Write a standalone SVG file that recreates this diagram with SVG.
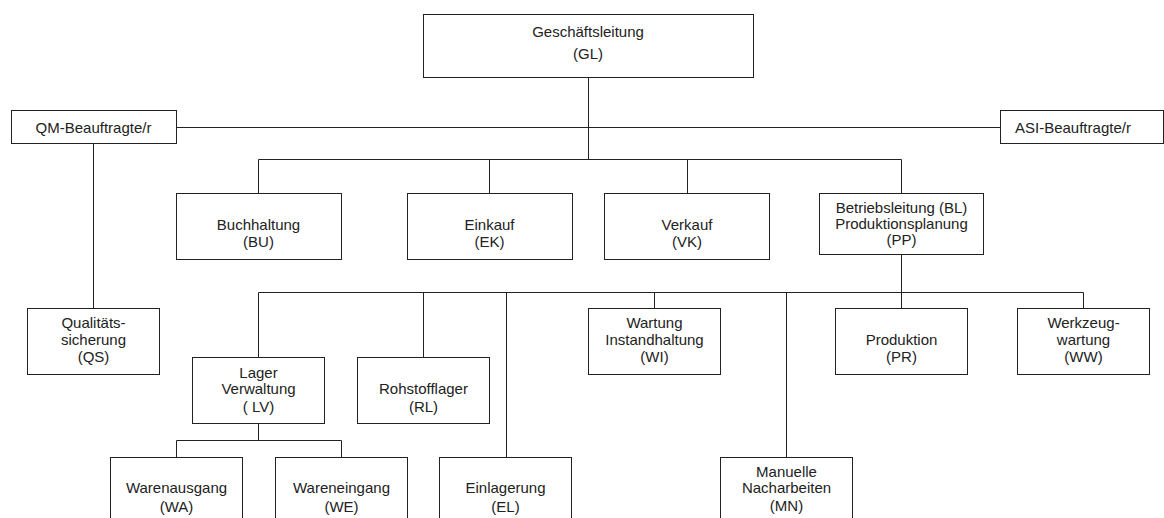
<svg xmlns="http://www.w3.org/2000/svg" width="1164" height="518" viewBox="0 0 1164 518">
<style>
rect{fill:#fff;stroke:#222;stroke-width:1}
.c path{fill:none;stroke:#222;stroke-width:1}
text{font-family:"Liberation Sans",Arial,sans-serif;font-size:15px;fill:#222;text-anchor:middle}
</style>
<rect x="0" y="0" width="1164" height="518" style="stroke:none"/>
<g class="c" id="connectors">
<path d="M588.5 77.5V159.5M176.5 127.5H1000.5M258.5 159.5H901.5M258.5 159.5V193.5M489.5 159.5V193.5M687.5 159.5V193.5M901.5 159.5V193.5"/>
<path d="M93.5 143.5V308.5"/>
<path d="M901.5 254.5V292.5M258.5 292.5H1083.5M258.5 292.5V357.5M423.5 292.5V357.5M506.5 292.5V457.5M654.5 292.5V308.5M786.5 292.5V457.5M901.5 292.5V308.5M1083.5 292.5V308.5"/>
<path d="M258.5 423.5V440.5M176.5 440.5H341.5M176.5 440.5V457.5M341.5 440.5V457.5"/>
</g>
<g id="GL"><rect x="423.5" y="14.5" width="330" height="63"/><text x="588" y="37">Geschäftsleitung</text><text x="588" y="58.5">(GL)</text></g>
<g id="QM"><rect x="11.5" y="110.5" width="165" height="33"/><text x="93.5" y="132.5">QM-Beauftragte/r</text></g>
<g id="ASI"><rect x="1000.5" y="110.5" width="163" height="33"/><text x="1015" y="132.5" style="text-anchor:start">ASI-Beauftragte/r</text></g>
<g id="BU"><rect x="176.5" y="193.5" width="165" height="66"/><text x="258.5" y="230">Buchhaltung</text><text x="258.5" y="247">(BU)</text></g>
<g id="EK"><rect x="407.5" y="193.5" width="165" height="66"/><text x="489.5" y="230">Einkauf</text><text x="489.5" y="247">(EK)</text></g>
<g id="VK"><rect x="604.5" y="193.5" width="165" height="66"/><text x="687" y="230">Verkauf</text><text x="687" y="247">(VK)</text></g>
<g id="BL"><rect x="819.5" y="193.5" width="164" height="61"/><text x="901.5" y="213">Betriebsleitung (BL)</text><text x="901.5" y="229">Produktionsplanung</text><text x="901.5" y="245">(PP)</text></g>
<g id="QS"><rect x="27.5" y="308.5" width="132" height="66"/><text x="93.5" y="328">Qualitäts-</text><text x="93.5" y="345">sicherung</text><text x="93.5" y="362">(QS)</text></g>
<g id="WI"><rect x="588.5" y="308.5" width="132" height="66"/><text x="654.5" y="328">Wartung</text><text x="654.5" y="345">Instandhaltung</text><text x="654.5" y="362">(WI)</text></g>
<g id="PR"><rect x="835.5" y="308.5" width="132" height="66"/><text x="901.5" y="345">Produktion</text><text x="901.5" y="362">(PR)</text></g>
<g id="WW"><rect x="1017.5" y="308.5" width="132" height="66"/><text x="1083.5" y="328">Werkzeug-</text><text x="1083.5" y="345">wartung</text><text x="1083.5" y="362">(WW)</text></g>
<g id="LV"><rect x="192.5" y="357.5" width="132" height="66"/><text x="258.5" y="378">Lager</text><text x="258.5" y="394">Verwaltung</text><text x="258.5" y="412">( LV)</text></g>
<g id="RL"><rect x="357.5" y="357.5" width="132" height="66"/><text x="423.5" y="394">Rohstofflager</text><text x="423.5" y="412">(RL)</text></g>
<g id="WA"><rect x="110.5" y="457.5" width="132" height="80"/><text x="176.5" y="493">Warenausgang</text><text x="176.5" y="512">(WA)</text></g>
<g id="WE"><rect x="275.5" y="457.5" width="132" height="80"/><text x="341.5" y="493">Wareneingang</text><text x="341.5" y="512">(WE)</text></g>
<g id="EL"><rect x="439.5" y="457.5" width="132" height="80"/><text x="505.5" y="493">Einlagerung</text><text x="505.5" y="512">(EL)</text></g>
<g id="MN"><rect x="720.5" y="457.5" width="132" height="80"/><text x="786.5" y="477">Manuelle</text><text x="786.5" y="493">Nacharbeiten</text><text x="786.5" y="511">(MN)</text></g>
</svg>
